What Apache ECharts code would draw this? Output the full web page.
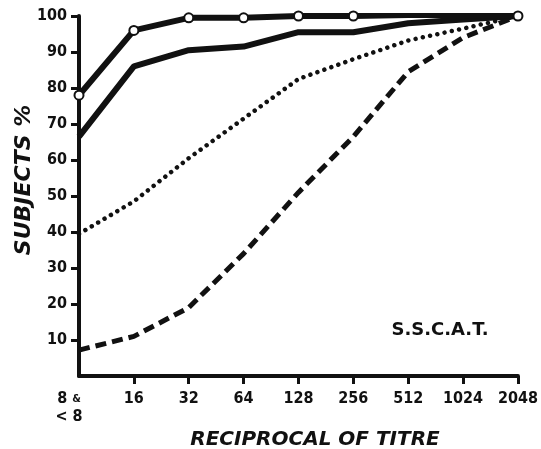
<!DOCTYPE html>
<html>
<head>
<meta charset="utf-8">
<script src="https://cdn.jsdelivr.net/npm/echarts@6/dist/echarts.min.js"></script>
<style>html,body{margin:0;padding:0;background:#fff}#c{width:541px;height:449px}</style>
</head>
<body>
<div id="c"></div>
<script>
const categories = ['8 &\n< 8', '16', '32', '64', '128', '256', '512', '1024', '2048'];
const openCircleLine = [78, 96, 99.5, 99.5, 100, 100, 100.3, 100.3, 100];
const solidLine = [66.5, 86, 90.5, 91.5, 95.5, 95.5, 98, 99, 100];
const dottedLine = [39.5, 48.5, 60.5, 71.5, 82.5, 88, 93.2, 96.5, 100];
const dashedLine = [7.2, 11, 19, 34, 51, 66.5, 84.5, 94, 100];
const yTicks = [10, 20, 30, 40, 50, 60, 70, 80, 90, 100];

const ink = '#111';
const narrow = '"Liberation Sans Narrow", "DejaVu Sans Condensed", "Liberation Sans", sans-serif';
const wide = '"DejaVu Sans", "Liberation Sans", sans-serif';

const chart = echarts.init(document.getElementById('c'));
chart.setOption({
  animation: false,
  backgroundColor: '#fff',
  grid: { left: 79, right: 20, top: 16, bottom: 73 },
  xAxis: {
    type: 'category',
    data: categories,
    boundaryGap: false,
    axisLine: { lineStyle: { color: ink, width: 4 } },
    axisTick: { show: true, length: 8, lineStyle: { color: ink, width: 3 }, interval: function (i) { return i !== 0; } },
    axisLabel: {
      interval: 0, showMinLabel: true, showMaxLabel: true,
      margin: 14, color: ink, fontFamily: narrow, fontWeight: 'bold', fontSize: 16, lineHeight: 18,
      formatter: function (v, i) {
        if (i === 0) return '{f|8 }{s|&}\n{g|< 8}';
        return v;
      },
      rich: {
        f: { fontFamily: narrow, fontWeight: 'bold', fontSize: 16, color: ink, lineHeight: 18 },
        s: { fontFamily: narrow, fontWeight: 'bold', fontSize: 11, color: ink, padding: [0, 20, 0, 0], lineHeight: 18 },
        g: { fontFamily: narrow, fontWeight: 'bold', fontSize: 16, color: ink, padding: [0, 20, 0, 0], lineHeight: 18 }
      }
    },
    splitLine: { show: false }
  },
  yAxis: {
    type: 'value',
    min: 0, max: 100, interval: 10,
    axisLine: { show: true, lineStyle: { color: ink, width: 4 } },
    axisTick: { show: true, length: 8, lineStyle: { color: ink, width: 3 }, customValues: yTicks },
    axisLabel: {
      margin: 12, color: ink, fontFamily: narrow, fontWeight: 'bold', fontSize: 16,
      customValues: yTicks
    },
    splitLine: { show: false }
  },
  series: [
    {
      type: 'line', data: openCircleLine, symbol: 'circle', symbolSize: 9, showSymbol: true,
      lineStyle: { color: ink, width: 6, join: 'round' },
      itemStyle: { color: '#fff', borderColor: ink, borderWidth: 2 }, z: 5
    },
    {
      type: 'line', data: solidLine, symbol: 'none',
      lineStyle: { color: ink, width: 6, join: 'round' }
    },
    {
      type: 'line', data: dottedLine, symbol: 'none',
      lineStyle: { color: ink, width: 4.5, type: [0.01, 7.4], cap: 'round' }
    },
    {
      type: 'line', data: dashedLine, symbol: 'none',
      lineStyle: { color: ink, width: 5, type: [11, 6], cap: 'butt' }
    }
  ],
  graphic: [
    {
      type: 'text', x: 24, y: 180, rotation: Math.PI / 2,
      style: { text: 'SUBJECTS %', fill: ink, font: 'italic bold 22px ' + wide, align: 'center', verticalAlign: 'middle' }
    },
    {
      type: 'text', x: 315, y: 440,
      style: { text: 'RECIPROCAL OF TITRE', fill: ink, font: 'italic bold 20px ' + wide, align: 'center', verticalAlign: 'middle' }
    },
    {
      type: 'text', x: 440, y: 330,
      style: { text: 'S.S.C.A.T.', fill: ink, font: 'bold 18px ' + wide, align: 'center', verticalAlign: 'middle' }
    }
  ]
});
</script>
</body>
</html>
